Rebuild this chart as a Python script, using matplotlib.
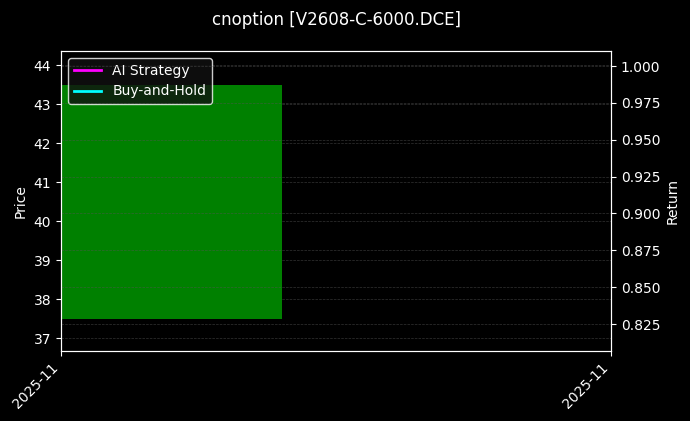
import matplotlib
matplotlib.use("Agg")
import matplotlib.pyplot as plt
from matplotlib.lines import Line2D

plt.style.use("dark_background")

title = "cnoption [V2608-C-6000.DCE]"
x_idx = [0]
opens = [37.5]
closes = [43.5]
strategy = [1.0]
buyhold = [1.0]
tick_labels = ["2025-11", "2025-11"]

fig = plt.figure(figsize=(6.9, 4.21), dpi=100)
fig.patch.set_facecolor("black")
ax = fig.add_axes([61/690, 1 - 351/421, 550/690, 300/421])
ax.set_facecolor("black")

for xi, o, c in zip(x_idx, opens, closes):
    col = "#008000" if c >= o else "#d00000"
    ax.bar(xi, c - o, bottom=o, width=0.8, align="edge", color=col, zorder=2)

ax.set_xlim(0, 0.8 / 0.4018)
ax.set_ylim(36.67, 44.36)
ax.set_ylabel("Price", color="white", fontsize=10)
ax.grid(True, axis="y", color="#555555", linestyle="--", linewidth=0.5, alpha=0.6)
ax.set_xticks([0, 0.8 / 0.4018])
ax.set_xticklabels(tick_labels, rotation=45, ha="right", fontsize=10)

ax2 = ax.twinx()
ax2.plot(x_idx, strategy, color="magenta", linewidth=2, label="AI Strategy")
ax2.plot(x_idx, buyhold, color="cyan", linewidth=2, label="Buy-and-Hold")
ax2.set_ylim(0.8067, 1.0102)
ax2.set_yticks([0.825, 0.85, 0.875, 0.9, 0.925, 0.95, 0.975, 1.0])
ax2.set_yticklabels([f"{v:.3f}" for v in [0.825, 0.85, 0.875, 0.9, 0.925, 0.95, 0.975, 1.0]])
ax2.set_ylabel("Return", color="white", fontsize=10)
ax2.grid(True, axis="y", color="#555555", linestyle="--", linewidth=0.5, alpha=0.6)

for a in (ax, ax2):
    for s in a.spines.values():
        s.set_color("white")
    a.tick_params(colors="white", labelsize=10)

handles = [Line2D([0], [0], color="magenta", lw=2), Line2D([0], [0], color="cyan", lw=2)]
leg = ax.legend(handles, ["AI Strategy", "Buy-and-Hold"], loc="upper left", fontsize=10,
                facecolor="#111111", edgecolor="white", framealpha=0.8)
for t in leg.get_texts():
    t.set_color("white")

fig.suptitle(title, color="white", fontsize=12, x=336/690, y=0.975)
fig.savefig("out.png", dpi=100, facecolor="black")
